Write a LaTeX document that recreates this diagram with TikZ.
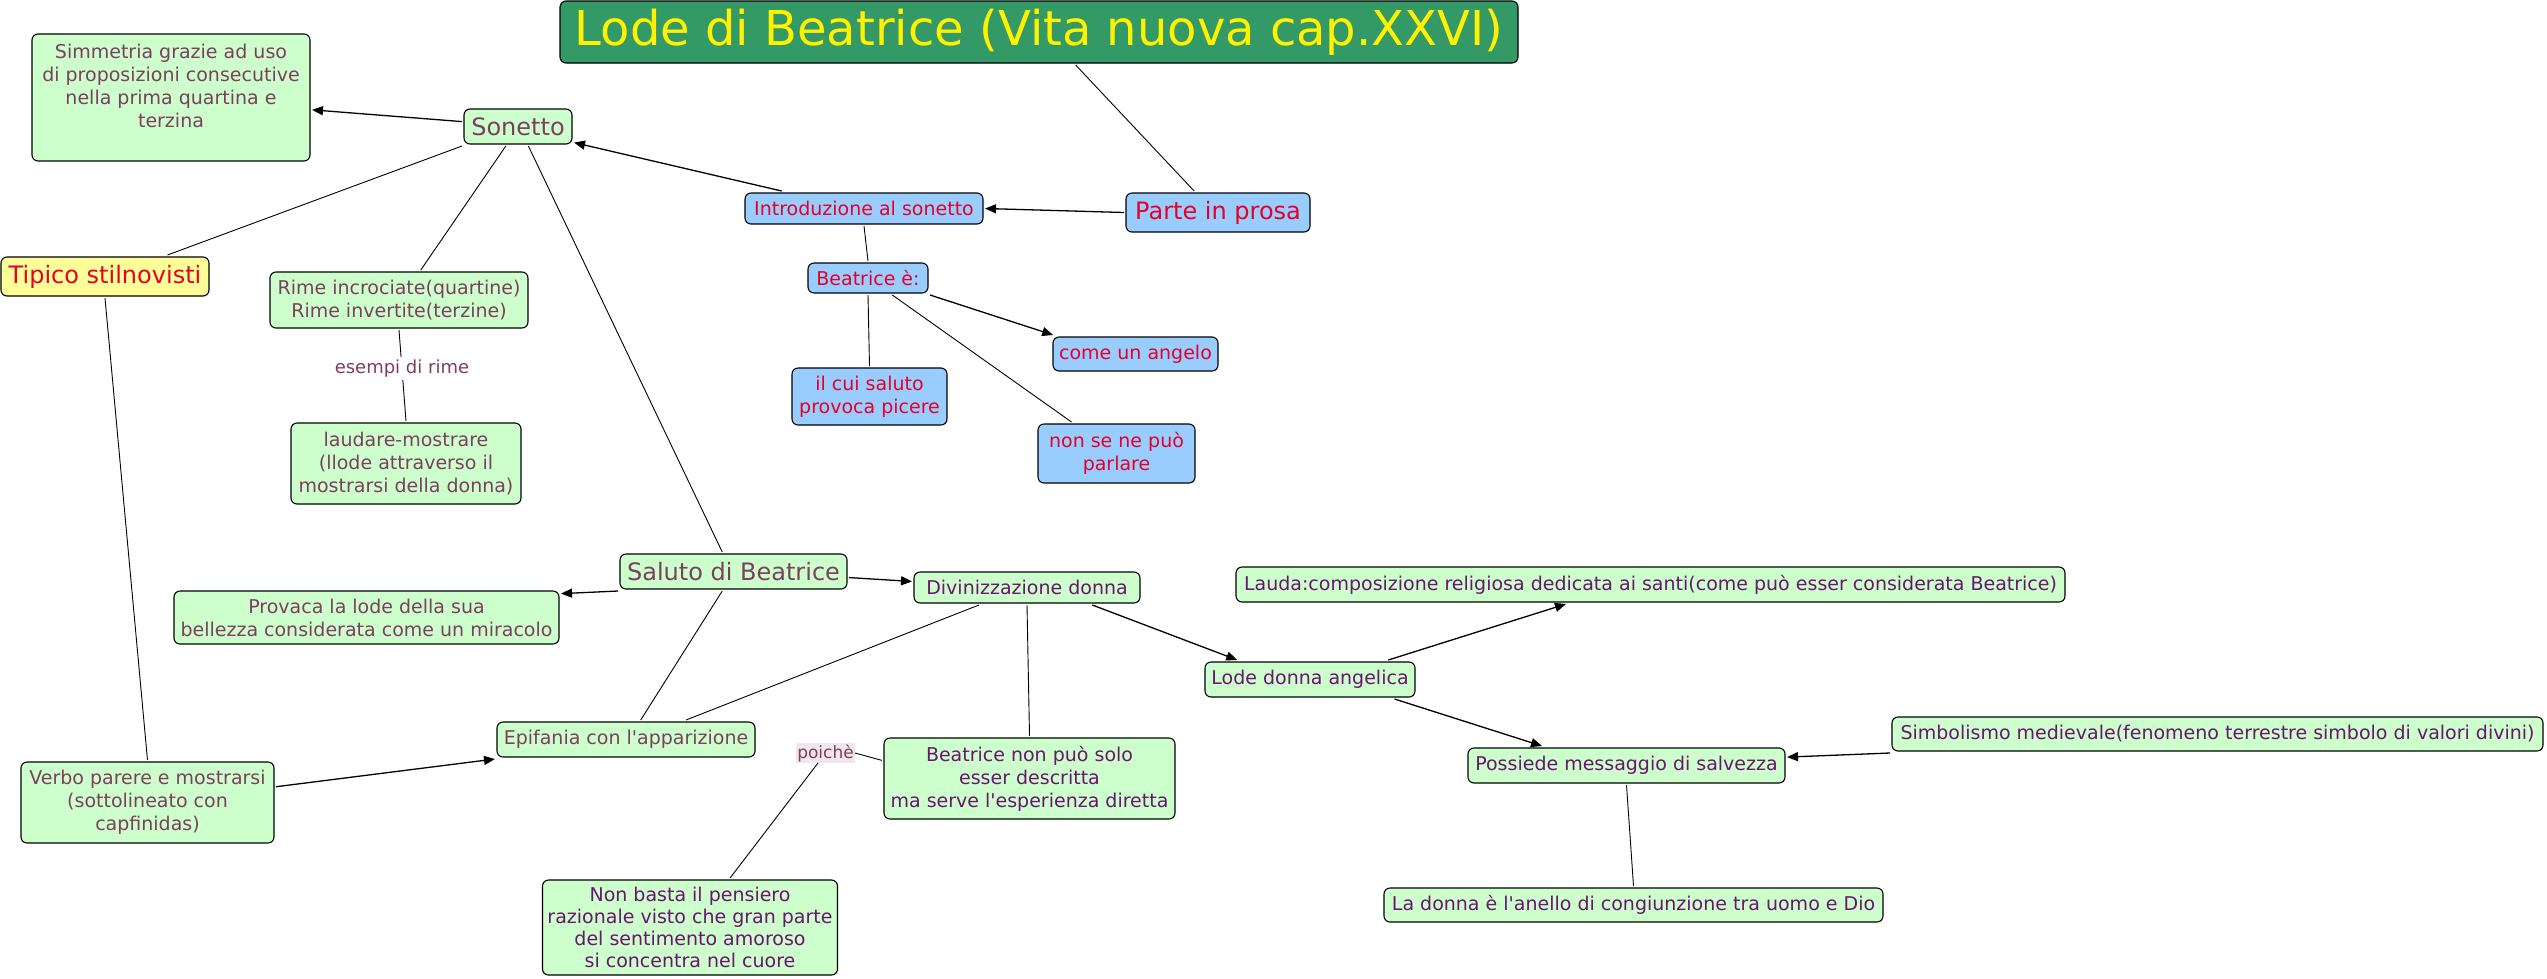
\documentclass[tikz,border=0pt]{standalone}
\usepackage{fontspec}
\setmainfont{DejaVu Sans}
\usetikzlibrary{arrows.meta}
\definecolor{cmgreen}{HTML}{CCFFCC}
\definecolor{cmblue}{HTML}{99CCFF}
\definecolor{cmyellow}{HTML}{FFFF99}
\definecolor{cmtitle}{HTML}{339966}
\definecolor{cmmaroon}{HTML}{7D3F5F}
\definecolor{cmpurple}{HTML}{6B1470}
\definecolor{cmred}{HTML}{E60026}
\definecolor{cmlabel}{HTML}{EFE7EB}
\newcommand{\fsz}[2]{\fontsize{#1}{#2}\selectfont}
\newcommand{\ap}{\textquotesingle}

\begin{document}
\begin{tikzpicture}[x=1pt, y=-1pt,
  font=\fsz{19}{23}, >={Triangle[length=11pt,width=9pt]},
  cpt/.style={draw, line width=1.1pt, rounded corners=6pt, align=center,
              inner xsep=5pt, inner ysep=3pt, outer sep=2pt},
  gcpt/.style={cpt, fill=cmgreen, text=cmmaroon},
  pcpt/.style={cpt, fill=cmgreen, text=cmpurple},
  bcpt/.style={cpt, fill=cmblue, text=cmred},
  big/.style={font=\fsz{24}{28}},
  link/.style={line width=0.9pt},
  tr/.style={->, line width=1.3pt},
  lbl/.style={font=\fsz{18}{22}, text=cmmaroon, inner sep=3pt}]
  \fill[white] (0,0) rectangle (2547,978);
  \useasboundingbox (0,0) rectangle (2547,978);
  \node[cpt, fill=cmtitle, text=yellow, font=\fsz{48}{56}, minimum width=958pt,
        minimum height=62pt] (title) at (1039,32) {Lode di Beatrice (Vita nuova cap.XXVI)};
  \node[bcpt, big, minimum width=184pt, minimum height=39pt] (prosa) at (1218,212.5) {Parte in prosa};
  \node[bcpt, minimum width=238pt, minimum height=31pt] (intro) at (864,208.5) {Introduzione al sonetto};
  \node[bcpt, minimum width=120pt, minimum height=30pt] (beae) at (868,278) {Beatrice è:};
  \node[bcpt, minimum width=165pt, minimum height=34pt] (angelo) at (1135.5,354) {come un angelo};
  \node[bcpt, minimum width=155pt, minimum height=57pt] (saluto) at (869.5,396.5) {il cui saluto\\provoca picere};
  \node[bcpt, minimum width=157pt, minimum height=59pt] (parlare) at (1116.5,453.5) {non se ne può\\parlare};
  \node[gcpt, big, minimum width=108pt, minimum height=35pt] (sonetto) at (518,126.5) {Sonetto};
  \node[gcpt, minimum width=278pt, minimum height=127pt] (simm) at (171,97.5)
     {Simmetria grazie ad uso\\di proposizioni consecutive\\nella prima quartina e\\terzina\\\mbox{}};
  \node[cpt, fill=cmyellow, text=cmred, big, minimum width=208pt, minimum height=39pt] (tipico)
     at (105,276.5) {Tipico stilnovisti};
  \node[gcpt, minimum width=258pt, minimum height=56pt] (rime) at (399,300)
     {Rime incrociate(quartine)\\Rime invertite(terzine)};
  \node[gcpt, minimum width=230pt, minimum height=81pt] (laudare) at (406,463.5)
     {laudare-mostrare\\(llode attraverso il\\mostrarsi della donna)};
  \node[gcpt, big, minimum width=227pt, minimum height=35pt] (salbea) at (733.5,571.5) {Saluto di Beatrice};
  \node[pcpt, minimum width=226pt, minimum height=31pt] (divin) at (1027,587.5) {Divinizzazione donna};
  \node[gcpt, minimum width=385pt, minimum height=53pt] (provoca) at (366.5,617.5)
     {Provaca la lode della sua\\bellezza considerata come un miracolo};
  \node[gcpt, minimum width=258pt, minimum height=35pt] (epif) at (626,739.5) {Epifania con l\ap apparizione};
  \node[pcpt, minimum width=291pt, minimum height=81pt] (solo) at (1029.5,778.5)
     {Beatrice non può solo\\esser descritta\\ma serve l\ap esperienza diretta};
  \node[gcpt, minimum width=253pt, minimum height=81pt] (verbo) at (147.5,802.5)
     {Verbo parere e mostrarsi\\(sottolineato con\\capfinidas)};
  \node[pcpt, font=\fsz{19}{22}, minimum width=292pt, minimum height=95pt] (nonbasta) at (690,927.5)
     {Non basta il pensiero\\razionale visto che gran parte\\del sentimento amoroso\\si concentra nel cuore};
  \node[pcpt, minimum width=829pt, minimum height=35pt] (lauda) at (1650.5,584.5)
     {Lauda:composizione religiosa dedicata ai santi(come può esser considerata Beatrice)};
  \node[pcpt, minimum width=210pt, minimum height=35pt] (lode) at (1310,679.5) {Lode donna angelica};
  \node[pcpt, minimum width=317pt, minimum height=35pt] (poss) at (1626.5,765.5) {Possiede messaggio di salvezza};
  \node[pcpt, minimum width=651pt, minimum height=34pt] (simbol) at (2217.5,734)
     {Simbolismo medievale(fenomeno terrestre simbolo di valori divini)};
  \node[pcpt, minimum width=499pt, minimum height=34pt] (anello) at (1633.5,905)
     {La donna è l\ap anello di congiunzione tra uomo e Dio};
  \node[lbl, fill=cmlabel, font=\fsz{17}{20}, inner sep=1pt] (poiche) at (825.5,753) {poichè};
  \draw[link] (title.-42) -- (prosa.138);
  \draw[tr] (prosa.west) -- (intro.east);
  \draw[tr] (intro.168) -- (sonetto.-16);
  \draw[tr] (sonetto.175) -- (simm.-5);
  \draw[link] (sonetto.south west) -- (tipico.19);
  \draw[link] (sonetto.-122) -- (rime.54);
  \draw[link] (sonetto.-62) -- (salbea.120);
  \draw[link] (rime.south) -- node[lbl, fill=white, pos=0.42] (esempi) {esempi di rime} (laudare.north);
  \draw[link] (intro.south) -- (beae.north);
  \draw[link] (beae.south) -- (saluto.north);
  \draw[tr] (beae.south east) -- (angelo.167);
  \draw[link] (beae.-35) -- (parlare.145);
  \draw[link] (tipico.south) -- (verbo.north);
  \draw[tr] (salbea.south west) -- (provoca.7);
  \draw[tr] (salbea.-3) -- (divin.177);
  \draw[link] (salbea.-120) -- (epif.53);
  \draw[link] (divin.-160) -- (epif.18);
  \draw[link] (divin.south) -- (solo.north);
  \draw[tr] (divin.-15) -- (lode.165);
  \draw[tr] (lode.14) -- (lauda.-167);
  \draw[tr] (lode.-13) -- (poss.167);
  \draw[tr] (simbol.south west) -- (poss.3);
  \draw[link] (poss.south) -- (anello.north);
  \draw[tr] (verbo.7) -- (epif.south west);
  \draw[link] (solo.173) -- (poiche.east);
  \draw[link] (poiche.-127) -- (nonbasta.51);
\end{tikzpicture}
\end{document}
